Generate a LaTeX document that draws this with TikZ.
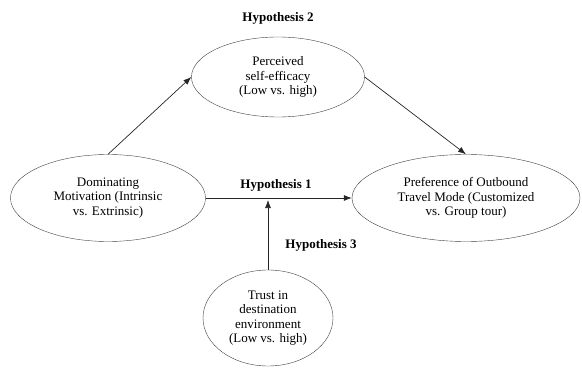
\documentclass[tikz,border=0pt]{standalone}
\usepackage{fontspec}
\setmainfont{Liberation Serif}
\usetikzlibrary{shapes.geometric}
\usetikzlibrary{arrows.meta}

\tikzset{
  factor/.style={draw=black!75, ellipse, inner sep=0pt, align=center,
    font=\fontsize{13}{14.5}\selectfont},
  hyplabel/.style={font=\fontsize{13}{14.5}\selectfont\bfseries},
  link/.style={-{Latex[length=8pt, width=6pt]}, black!85, line width=0.7pt}
}

\begin{document}
\begin{tikzpicture}[x=1pt, y=-1pt]
                \useasboundingbox (0, 0) rectangle (582, 369);

                % Constructs
                \node[factor, minimum width=195, minimum height=87] (motiv) at (108, 198)
                    {Dominating\\Motivation (Intrinsic\\vs. Extrinsic)};
                \node[factor, minimum width=173, minimum height=80] (efficacy) at (278, 77)
                    {Perceived\\self-efficacy\\(Low vs. high)};
                \node[factor, minimum width=228, minimum height=87] (mode) at (466, 198)
                    {Preference of Outbound\\Travel Mode (Customized\\vs. Group tour)};
                \node[factor, minimum width=130, minimum height=96] (trust) at (268, 318)
                    {Trust in\\destination\\environment\\(Low vs. high)};

                % Paths
                \draw[link] (motiv.north) -- (efficacy.west);
                \draw[link] (efficacy.east) -- (mode.north);
                \draw[link] (motiv.east) -- (mode.west);
                \coordinate (meet) at (trust.north |- 0, 200);
                \draw[link] (trust.north) -- (meet);

                % Hypotheses
                \node[hyplabel] (h2) at (278, 18) {Hypothesis 2};
                \node[hyplabel] (h1) at (276, 185) {Hypothesis 1};
                \node[hyplabel] (h3) at (321, 245) {Hypothesis 3};
            \end{tikzpicture}
\end{document}
